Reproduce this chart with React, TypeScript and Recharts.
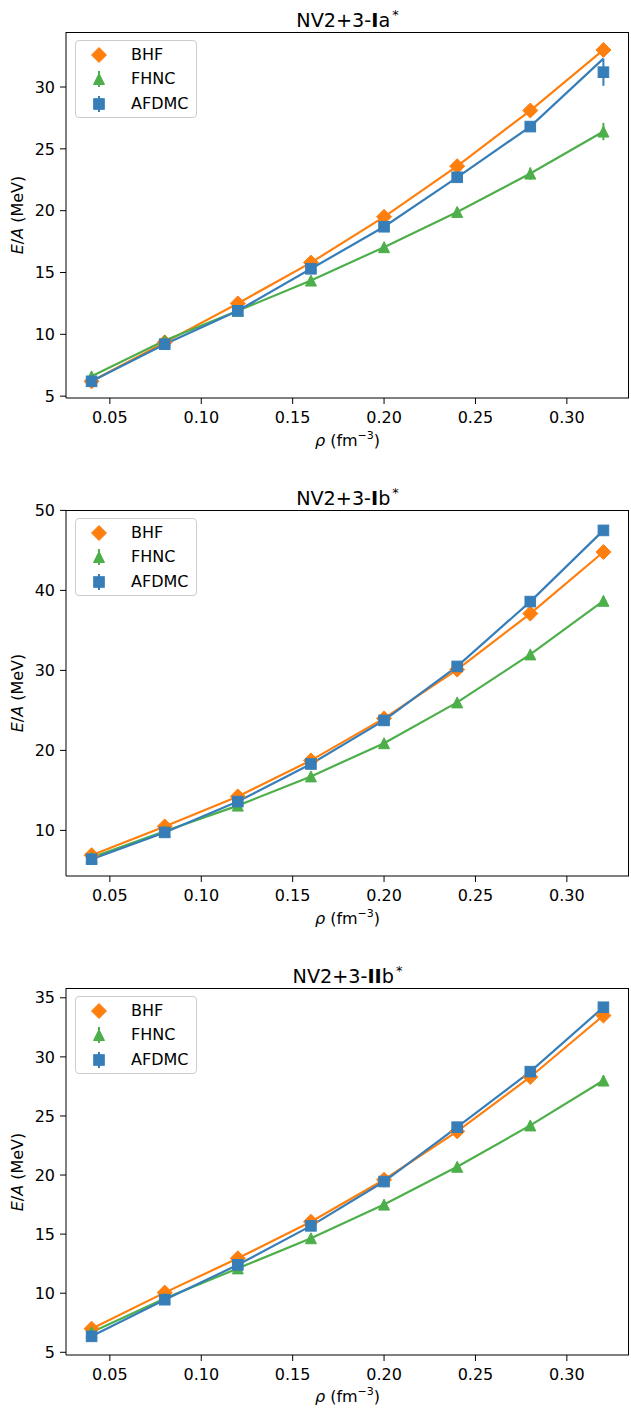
import React from 'react';
import { LineChart, Line, XAxis, YAxis, ErrorBar, Legend } from 'recharts';

const FONT = '"DejaVu Sans", Verdana, sans-serif';
const ORANGE = '#ff7f0e';
const GREEN = '#4daf4a';
const BLUE = '#377eb8';

const rho = [0.04, 0.08, 0.12, 0.16, 0.2, 0.24, 0.28, 0.32];
const xTicks = [0.05, 0.1, 0.15, 0.2, 0.25, 0.3];
const xDomain = [0.026, 0.334];

// Panel 1: NV2+3-Ia*
const bhfIa = [6.2, 9.35, 12.5, 15.8, 19.5, 23.6, 28.1, 33.0];
const fhncIa = [6.6, 9.5, 11.9, 14.35, 17.05, 19.9, 23.0, 26.4];
const fhncIaErr = [0.05, 0.05, 0.1, 0.15, 0.2, 0.35, 0.5, 0.7];
const afdmcIa = [6.2, 9.2, 11.9, 15.3, 18.7, 22.7, 26.8, 31.2];
const afdmcIaErr = [0.1, 0.1, 0.1, 0.1, 0.15, 0.2, 0.3, 1.1];
const afdmcIaLine = [6.2, 9.2, 11.9, 15.3, 18.7, 22.7, 26.8, 32.3];
const yTicksIa = [5, 10, 15, 20, 25, 30];

// Panel 2: NV2+3-Ib*
const bhfIb = [6.9, 10.5, 14.25, 18.75, 24.0, 30.1, 37.1, 44.8];
const fhncIb = [6.6, 9.9, 13.1, 16.75, 20.9, 26.0, 32.0, 38.7];
const fhncIbErr = [0.05, 0.05, 0.1, 0.1, 0.15, 0.2, 0.3, 0.5];
const afdmcIb = [6.4, 9.75, 13.6, 18.3, 23.75, 30.5, 38.6, 47.5];
const afdmcIbErr = [0.1, 0.1, 0.1, 0.1, 0.15, 0.2, 0.3, 0.4];
const afdmcIbLine = [6.4, 9.75, 13.6, 18.3, 23.75, 30.5, 38.6, 47.5];
const yTicksIb = [10, 20, 30, 40, 50];

// Panel 3: NV2+3-IIb*
const bhfIIb = [7.0, 10.05, 12.95, 16.05, 19.6, 23.7, 28.3, 33.5];
const fhncIIb = [6.7, 9.55, 12.1, 14.65, 17.5, 20.7, 24.2, 28.0];
const fhncIIbErr = [0.05, 0.05, 0.1, 0.1, 0.15, 0.2, 0.3, 0.4];
const afdmcIIb = [6.35, 9.45, 12.4, 15.7, 19.45, 24.05, 28.75, 34.2];
const afdmcIIbErr = [0.1, 0.1, 0.1, 0.1, 0.15, 0.2, 0.3, 0.4];
const afdmcIIbLine = [6.35, 9.45, 12.4, 15.7, 19.45, 24.05, 28.75, 34.2];
const yTicksIIb = [5, 10, 15, 20, 25, 30, 35];

const seriesNames = ['BHF', 'FHNC', 'AFDMC'];

type Panel = {
  key: string;
  titleBold: string;
  titleRest: string;
  bhf: number[];
  fhnc: number[];
  fhncErr: number[];
  afdmc: number[];
  afdmcErr: number[];
  afdmcLine: number[];
  yTicks: number[];
  yDomain: [number, number];
  height: number;
  bottom: number;
};

const panels: Panel[] = [
  { key: 'Ia', titleBold: 'I', titleRest: 'a', bhf: bhfIa, fhnc: fhncIa, fhncErr: fhncIaErr, afdmc: afdmcIa, afdmcErr: afdmcIaErr, afdmcLine: afdmcIaLine, yTicks: yTicksIa, yDomain: [4.85, 34.45], height: 478, bottom: 50 },
  { key: 'Ib', titleBold: 'I', titleRest: 'b', bhf: bhfIb, fhnc: fhncIb, fhncErr: fhncIbErr, afdmc: afdmcIb, afdmcErr: afdmcIbErr, afdmcLine: afdmcIbLine, yTicks: yTicksIb, yDomain: [4.3, 50.05], height: 478, bottom: 50 },
  { key: 'IIb', titleBold: 'II', titleRest: 'b', bhf: bhfIIb, fhnc: fhncIIb, fhncErr: fhncIIbErr, afdmc: afdmcIIb, afdmcErr: afdmcIIbErr, afdmcLine: afdmcIIbLine, yTicks: yTicksIIb, yDomain: [4.77, 35.83], height: 455, bottom: 26 },
];

const PLOT_LEFT = 66;
const PLOT_TOP = 32;
const PLOT_W = 563;
const X_AXIS_H = 30;

const diamondPts = (cx: number, cy: number, r: number) =>
  `${cx},${cy - r} ${cx + r},${cy} ${cx},${cy + r} ${cx - r},${cy}`;
const trianglePts = (cx: number, cy: number, h: number) =>
  `${cx},${cy - h} ${cx + h},${cy + h} ${cx - h},${cy + h}`;

const DiamondDot = (props: any) => {
  const { cx, cy, index } = props;
  if (cx == null || cy == null) return <g key={`d${index}`} />;
  return <polygon key={`d${index}`} points={diamondPts(cx, cy, 7.5)} fill={ORANGE} stroke={ORANGE} strokeWidth={1} />;
};
const TriangleDot = (props: any) => {
  const { cx, cy, index } = props;
  if (cx == null || cy == null) return <g key={`t${index}`} />;
  return <polygon key={`t${index}`} points={trianglePts(cx, cy, 5.5)} fill={GREEN} stroke={GREEN} strokeWidth={1} />;
};
const SquareDot = (props: any) => {
  const { cx, cy, index } = props;
  if (cx == null || cy == null) return <g key={`s${index}`} />;
  return <rect key={`s${index}`} x={cx - 5.3} y={cy - 5.3} width={10.6} height={10.6} fill={BLUE} stroke={BLUE} strokeWidth={1} />;
};

const LegendBox = () => {
  const rows = [14, 38, 63];
  return (
    <div
      style={{
        width: 122,
        height: 78,
        boxSizing: 'border-box',
        border: '1px solid #cccccc',
        borderRadius: 4,
        background: 'rgba(255,255,255,0.8)',
        fontFamily: FONT,
        fontSize: 16,
        color: '#000',
        position: 'relative',
      }}
    >
      {seriesNames.map((name, i) => (
        <div key={name} style={{ position: 'absolute', left: 0, top: rows[i] - 11, height: 22, display: 'flex', alignItems: 'center' }}>
          <svg width={48} height={22}>
            {i === 0 && <polygon points={diamondPts(23, 11, 7.5)} fill={ORANGE} stroke={ORANGE} />}
            {i === 1 && (
              <g>
                <line x1={23} y1={3} x2={23} y2={19} stroke={GREEN} strokeWidth={2} />
                <polygon points={trianglePts(23, 11, 5.5)} fill={GREEN} stroke={GREEN} />
              </g>
            )}
            {i === 2 && (
              <g>
                <line x1={23} y1={3} x2={23} y2={19} stroke={BLUE} strokeWidth={2} />
                <rect x={17.7} y={5.7} width={10.6} height={10.6} fill={BLUE} stroke={BLUE} />
              </g>
            )}
          </svg>
          <span style={{ marginLeft: 7, lineHeight: '22px' }}>{name}</span>
        </div>
      ))}
    </div>
  );
};

const tickStyle = { fill: '#000', fontSize: 16, fontFamily: FONT };

const PanelChart = ({ p }: { p: Panel }) => {
  const data = rho.map((r, i) => ({
    rho: r,
    bhf: p.bhf[i],
    fhnc: p.fhnc[i],
    fhncErr: p.fhncErr[i],
    afdmc: p.afdmc[i],
    afdmcErr: p.afdmcErr[i],
    afdmcLine: p.afdmcLine[i],
  }));
  const plotH = p.height - PLOT_TOP - p.bottom - X_AXIS_H;
  return (
    <div style={{ position: 'relative', width: 631, height: p.height }}>
      <div
        style={{
          position: 'absolute',
          left: PLOT_LEFT,
          width: PLOT_W,
          top: 3,
          height: 24,
          lineHeight: '24px',
          textAlign: 'center',
          fontFamily: FONT,
          fontSize: 19.2,
          color: '#000',
          whiteSpace: 'nowrap',
        }}
      >
        NV2+3-<b>{p.titleBold}</b>
        {p.titleRest}
        <span style={{ fontSize: 13, verticalAlign: 8, marginLeft: 2 }}>*</span>
      </div>
      <LineChart width={631} height={p.height} data={data} margin={{ top: PLOT_TOP, right: 2, left: 0, bottom: p.bottom }}>
        <XAxis
          dataKey="rho"
          type="number"
          domain={xDomain}
          ticks={xTicks}
          allowDataOverflow
          tickFormatter={(v: number) => v.toFixed(2)}
          tick={tickStyle}
          stroke="#000"
          tickLine={{ stroke: '#000' }}
          tickSize={6}
          tickMargin={8}
          height={X_AXIS_H}
        />
        <YAxis
          type="number"
          domain={p.yDomain}
          ticks={p.yTicks}
          allowDataOverflow
          tick={tickStyle}
          stroke="#000"
          tickLine={{ stroke: '#000' }}
          tickSize={6}
          tickMargin={5}
          width={PLOT_LEFT}
        />
        <Legend layout="vertical" align="center" verticalAlign="middle" wrapperStyle={{ left: 75, top: 40, width: 122, height: 78 }} content={() => <LegendBox />} />
        <Line dataKey="bhf" name="BHF" stroke={ORANGE} strokeWidth={2.2} dot={DiamondDot} isAnimationActive={false} />
        <Line dataKey="fhnc" name="FHNC" stroke={GREEN} strokeWidth={2.2} dot={TriangleDot} isAnimationActive={false}>
          <ErrorBar dataKey="fhncErr" width={0} stroke={GREEN} strokeWidth={2} direction="y" isAnimationActive={false} />
        </Line>
        <Line dataKey="afdmcLine" name="AFDMC line" stroke={BLUE} strokeWidth={2.2} dot={false} legendType="none" isAnimationActive={false} />
        <Line dataKey="afdmc" name="AFDMC" stroke="none" dot={SquareDot} isAnimationActive={false}>
          <ErrorBar dataKey="afdmcErr" width={0} stroke={BLUE} strokeWidth={2} direction="y" isAnimationActive={false} />
        </Line>
      </LineChart>
      <div
        style={{
          position: 'absolute',
          left: PLOT_LEFT,
          top: PLOT_TOP,
          width: PLOT_W,
          height: plotH,
          boxSizing: 'border-box',
          borderTop: '1px solid #000',
          borderRight: '1px solid #000',
          pointerEvents: 'none',
        }}
      />
      <div
        style={{
          position: 'absolute',
          left: 17,
          top: PLOT_TOP + plotH / 2,
          transform: 'translate(-50%, -50%) rotate(-90deg)',
          fontFamily: FONT,
          fontSize: 16,
          whiteSpace: 'nowrap',
          color: '#000',
        }}
      >
        <i>E</i>/<i>A</i> (MeV)
      </div>
      <div
        style={{
          position: 'absolute',
          left: PLOT_LEFT + PLOT_W / 2,
          top: 440,
          transform: 'translate(-50%, -50%)',
          fontFamily: FONT,
          fontSize: 16,
          whiteSpace: 'nowrap',
          color: '#000',
        }}
      >
        <i>ρ</i> (fm<sup style={{ fontSize: 11, verticalAlign: 7, lineHeight: 0 }}>−3</sup>)
      </div>
    </div>
  );
};

export default function App() {
  return (
    <div style={{ position: 'absolute', left: 0, top: 0, width: 631, height: 1411, background: '#fff' }}>
      {panels.map((p) => (
        <PanelChart key={p.key} p={p} />
      ))}
    </div>
  );
}
